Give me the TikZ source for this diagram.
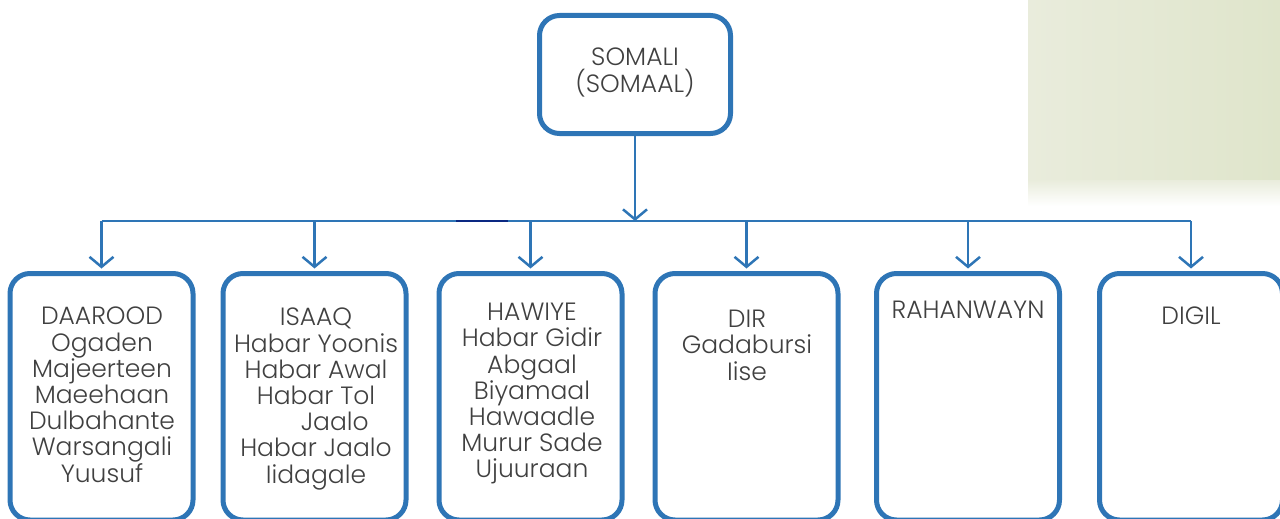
\documentclass[tikz,border=0pt]{standalone}
\usepackage{fontspec}
\setmainfont{Poppins}[UprightFont=* Light]
\usetikzlibrary{arrows.meta}
\definecolor{boxblue}{RGB}{46,117,182}
\definecolor{txtgray}{RGB}{64,64,64}
\definecolor{navyline}{RGB}{10,40,130}
\definecolor{bgA}{RGB}{233,236,220}
\definecolor{bgB}{RGB}{223,229,203}
\begin{document}
\begin{tikzpicture}[x=1pt,y=-1pt,
  clanbox/.style={draw=boxblue, line width=5pt, rounded corners=20pt, minimum width=183pt, minimum height=246.5pt, inner sep=0pt},
  topbox/.style={draw=boxblue, line width=5pt, rounded corners=20pt, minimum width=191pt, minimum height=118pt, inner sep=0pt},
  txt/.style={text=txtgray, font=\fontsize{25}{26.2}\selectfont, align=center, inner sep=0pt, anchor=north},
  conn/.style={draw=boxblue, line width=2.5pt},
  arr/.style={conn, -{Straight Barb[length=10pt,width=24pt]}}
]
\useasboundingbox (0,0) rectangle (1280,519);
% background panel
\fill[left color=bgA, right color=bgB] (1028,0) rectangle (1280,180);
\fill[top color=bgA, bottom color=white] (1028,180) rectangle (1280,206);
% boxes
\node[topbox] (top) at (635,74.5) {};
\node[clanbox] (b1) at (101.5,396.75) {};
\node[clanbox] (b2) at (314.5,396.75) {};
\node[clanbox] (b3) at (530.5,396.75) {};
\node[clanbox] (b4) at (746.5,396.75) {};
\node[clanbox] (b5) at (968,396.75) {};
\node[clanbox] (b6) at (1191,396.75) {};
% texts
\node[txt] (t0) at (635,48) {SOMALI\\(SOMAAL)};
\node[txt] (t1) at (102,307) {DAAROOD\\Ogaden\\Majeerteen\\Maeehaan\\Dulbahante\\Warsangali\\Yuusuf};
\node[txt] (t2) at (316,308) {ISAAQ\\Habar Yoonis\\Habar Awal\\Habar Tol\\\hspace*{1.5em}Jaalo\\Habar Jaalo\\Iidagale};
\node[txt] (t3) at (532,303) {HAWIYE\\Habar Gidir\\Abgaal\\Biyamaal\\Hawaadle\\Murur Sade\\Ujuuraan};
\node[txt] (t4) at (747,310) {DIR\\Gadabursi\\Iise};
\node[txt] (t5) at (968,301) {RAHANWAYN};
\node[txt] (t6) at (1191,307) {DIGIL};
% connectors
\coordinate (hl) at (101.5,221);
\coordinate (hr) at (1191,221);
\draw[conn] (hl) -- (hr);
\draw[navyline, line width=1.5pt] (456,221) -- (508,221);
\draw[arr] (top.south) -- (top.south |- hl);
\foreach \b in {b1,b2,b3,b4,b5,b6}{
  \draw[arr] (\b.north |- hl) -- ([yshift=2.5pt]\b.north);
}
\end{tikzpicture}
\end{document}
